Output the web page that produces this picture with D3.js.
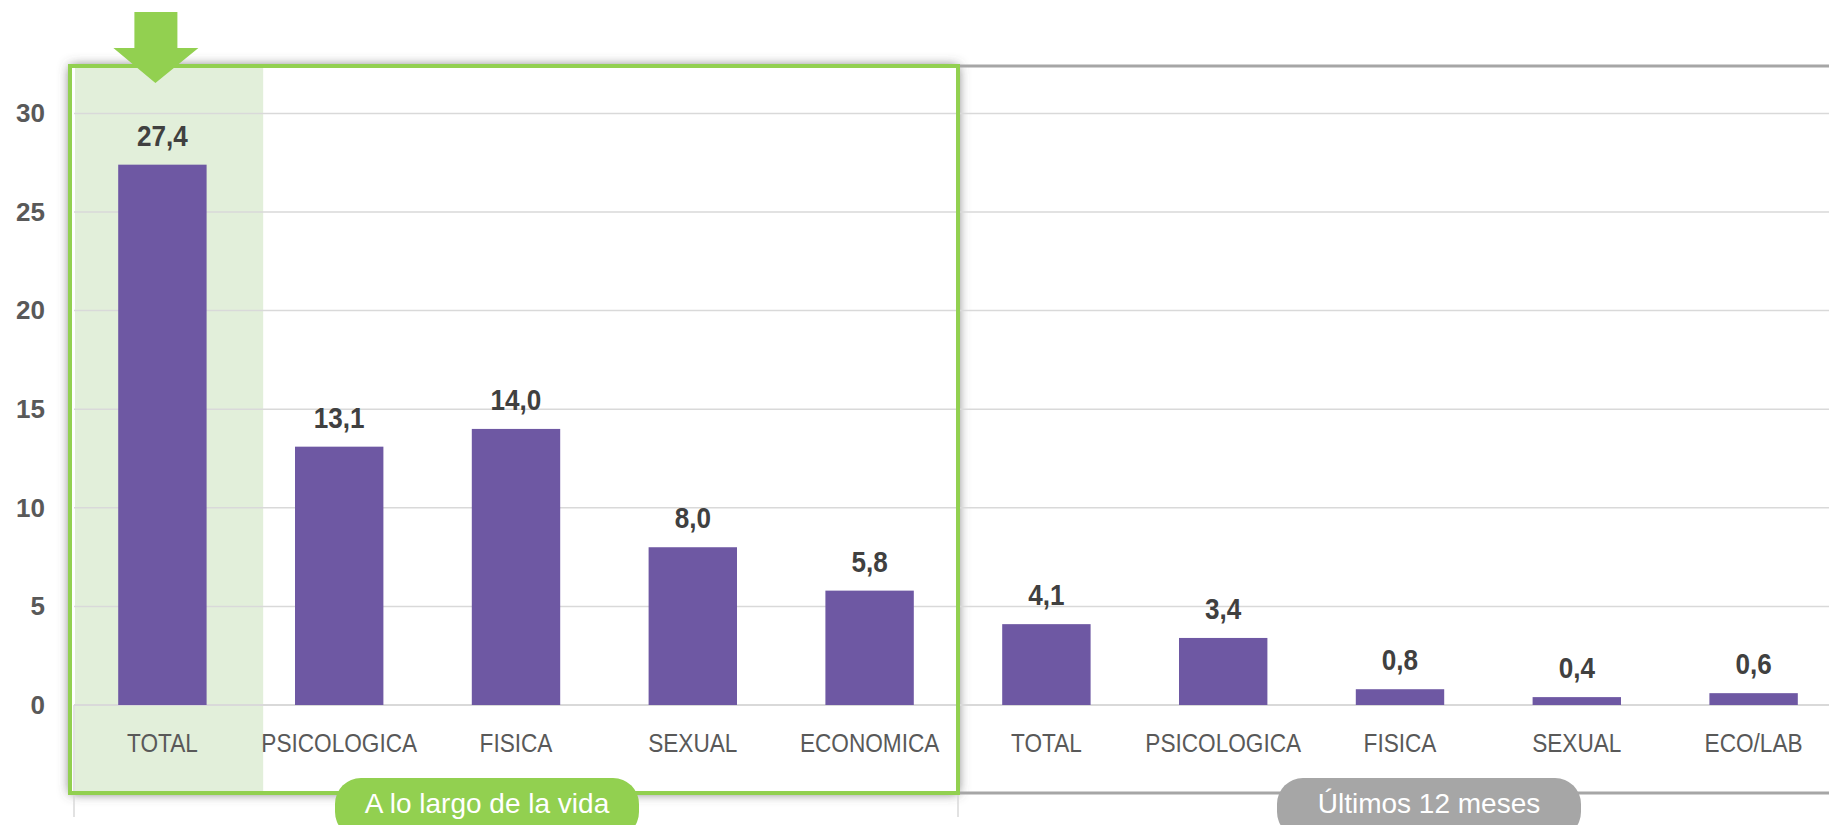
<!DOCTYPE html>
<html>
<head>
<meta charset="utf-8">
<script src="https://cdn.jsdelivr.net/npm/d3@7"></script>
<style>
  html, body { margin: 0; padding: 0; background: #fff; }
  svg { display: block; font-family: "Liberation Sans", Arial, sans-serif; }
</style>
</head>
<body>
<svg id="chart" width="1829" height="825"></svg>
<script>
// categories and values
const lifetimeCats = ["TOTAL", "PSICOLOGICA", "FISICA", "SEXUAL", "ECONOMICA"];
const lifetimeVals = [27.4, 13.1, 14.0, 8.0, 5.8];
const lastYearCats = ["TOTAL", "PSICOLOGICA", "FISICA", "SEXUAL", "ECO/LAB"];
const lastYearVals = [4.1, 3.4, 0.8, 0.4, 0.6];
const groupLabels = ["A lo largo de la vida", "Últimos 12 meses"];
const yTicks = [0, 5, 10, 15, 20, 25, 30];

const data = lifetimeCats.map((c, i) => ({key: i, cat: c, value: lifetimeVals[i], group: 0}))
  .concat(lastYearCats.map((c, i) => ({key: i + 5, cat: c, value: lastYearVals[i], group: 1})));

const svg = d3.select("#chart");
const green = "#92D050", purple = "#6E58A3", grey = "#595959";

const x = d3.scaleBand().domain(data.map(d => d.key))
  .range([74, 1842]).paddingInner(0.5).paddingOuter(0.25);
const y = d3.scaleLinear().domain([0, 30]).range([705, 113.4]);
const step = x.step();
const cx = k => x(k) + x.bandwidth() / 2;

const groupLeft = x.range()[0];
const groupSplit = x(5) - step * 0.25;
const frameTop = 66, frameBottom = 793;

// shadow filter for the highlight box
const defs = svg.append("defs");
const f = defs.append("filter").attr("id", "glow")
  .attr("x", "-10%").attr("y", "-10%").attr("width", "120%").attr("height", "120%");
f.append("feDropShadow").attr("dx", 0).attr("dy", 0).attr("stdDeviation", 6)
  .attr("flood-color", "#555").attr("flood-opacity", 0.9);

svg.append("rect")
  .attr("x", groupLeft - 4).attr("y", frameTop)
  .attr("width", groupSplit - groupLeft + 4).attr("height", frameBottom - frameTop)
  .attr("fill", "#fff").attr("filter", "url(#glow)");

// grey box for the second group
svg.append("line").attr("x1", groupSplit).attr("x2", 1829)
  .attr("y1", frameTop).attr("y2", frameTop)
  .attr("stroke", "#A6A6A6").attr("stroke-width", 3);
svg.append("line").attr("x1", groupSplit).attr("x2", 1829)
  .attr("y1", frameBottom).attr("y2", frameBottom)
  .attr("stroke", "#A6A6A6").attr("stroke-width", 3);

// highlight column behind the first bar
svg.append("rect")
  .attr("x", groupLeft + 1).attr("y", frameTop)
  .attr("width", cx(0) + step * 0.57 - groupLeft - 1).attr("height", frameBottom - frameTop)
  .attr("fill", "#E2EFDA");

// gridlines
svg.append("g").selectAll("line").data(yTicks.filter(t => t > 0)).join("line")
  .attr("x1", groupLeft).attr("x2", 1829)
  .attr("y1", d => y(d)).attr("y2", d => y(d))
  .attr("stroke", "#D9D9D9").attr("stroke-width", 1.5);

// y axis labels
const yAxis = svg.append("g").attr("transform", "translate(45,0)")
  .call(d3.axisLeft(y).tickValues(yTicks).tickSize(0).tickPadding(0).tickFormat(d3.format("d")));
yAxis.select(".domain").remove();
yAxis.selectAll("text").attr("fill", grey).attr("font-size", 26).attr("font-weight", "bold")
  .attr("font-family", "inherit");

// category axis
svg.append("line").attr("x1", groupLeft).attr("x2", 1829)
  .attr("y1", y(0)).attr("y2", y(0)).attr("stroke", "#D9D9D9").attr("stroke-width", 2);
svg.append("g").selectAll("line").data([groupLeft, groupSplit]).join("line")
  .attr("x1", d => d).attr("x2", d => d).attr("y1", y(0)).attr("y2", 817)
  .attr("stroke", "#D9D9D9").attr("stroke-width", 1.5);

svg.append("g").selectAll("text").data(data).join("text")
  .attr("transform", d => `translate(${cx(d.key)},752) scale(0.87,1)`)
  .attr("text-anchor", "middle").attr("fill", grey).attr("font-size", 26)
  .text(d => d.cat);

// bars
svg.append("g").selectAll("rect").data(data).join("rect")
  .attr("x", d => x(d.key)).attr("width", x.bandwidth())
  .attr("y", d => y(d.value)).attr("height", d => y(0) - y(d.value))
  .attr("fill", purple);

// value labels
const fmt = v => d3.format(".1f")(v).replace(".", ",");
svg.append("g").selectAll("text").data(data).join("text")
  .attr("transform", d => `translate(${cx(d.key)},${y(d.value) - 19}) scale(0.9,1)`)
  .attr("text-anchor", "middle").attr("fill", "#404040")
  .attr("font-size", 29).attr("font-weight", "bold")
  .text(d => fmt(d.value));

// green frame on top
svg.append("rect")
  .attr("x", groupLeft - 4).attr("y", frameTop)
  .attr("width", groupSplit - groupLeft + 4).attr("height", frameBottom - frameTop)
  .attr("fill", "none").attr("stroke", green).attr("stroke-width", 4);

// group pills
const pillCenters = [(groupLeft + groupSplit) / 2 - 29, (groupSplit + x.range()[1]) / 2 + 29];
const pillColors = [green, "#A6A6A6"];
const pills = svg.append("g").selectAll("g").data(groupLabels).join("g")
  .attr("transform", (d, i) => `translate(${pillCenters[i]},778)`);
pills.append("rect").attr("x", -152).attr("width", 304).attr("height", 60).attr("rx", 26)
  .attr("fill", (d, i) => pillColors[i]);
pills.append("text").attr("y", 35).attr("text-anchor", "middle")
  .attr("fill", "#fff").attr("font-size", 28).text(d => d);

// arrow over the TOTAL bar
const ax = cx(0) - 7;
svg.append("path")
  .attr("d", d3.line()([[ax - 21, 12], [ax + 22, 12], [ax + 22, 48], [ax + 43, 48],
    [ax, 83], [ax - 42, 48], [ax - 21, 48]]) + "Z")
  .attr("fill", green);
</script>
</body>
</html>
